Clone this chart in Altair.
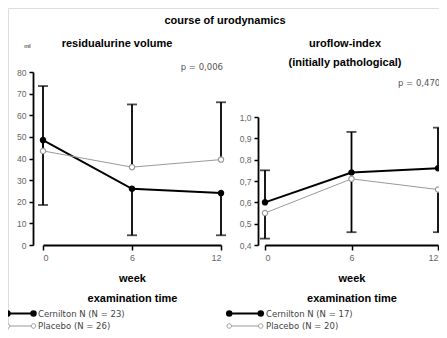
import altair as alt
import pandas as pd

weeks = [0, 6, 12]

# left panel: residual urine volume (ml)
rv_labels = ["Cernilton  N (N = 23)", "Placebo (N = 26)"]
rv_cern = [48.5, 26.0, 24.0]
rv_plac = [43.5, 36.0, 39.5]
rv_cern_end = [18.5, 4.5, 4.5]     # error bar end (downwards)
rv_plac_end = [73.5, 65.0, 66.0]   # error bar end (upwards)
rv_ticks = [0, 10, 20, 30, 40, 50, 60, 70, 80]

# right panel: uroflow-index
uf_labels = ["Cernilton  N (N = 17)", "Placebo (N = 20)"]
uf_cern = [0.60, 0.74, 0.76]
uf_plac = [0.55, 0.71, 0.66]
uf_cern_end = [0.75, 0.93, 0.95]
uf_plac_end = [0.43, 0.46, 0.46]
uf_ticks = [0.4, 0.5, 0.6, 0.7, 0.8, 0.9, 1.0]

week_ticks = [0, 6, 12]

W, H = 431, 322
FONT = "Liberation Sans"
LFONT = "DejaVu Sans"


def sym_path(half, r=0.45):
    c = half - r
    i = c - r
    return (f"M-{i},0L{i},0"
            f"M-{half},0A{r},{r} 0 1,0 -{i},0A{r},{r} 0 1,0 -{half},0Z"
            f"M{i},0A{r},{r} 0 1,0 {half},0A{r},{r} 0 1,0 {i},0Z")


def make_frames(labels, cern, plac, cern_end, plac_end):
    pts = pd.DataFrame({
        "week": weeks + weeks,
        "lo": cern + plac,
        "series": [labels[0]] * 3 + [labels[1]] * 3,
    })
    err = pd.DataFrame({
        "week": weeks + weeks,
        "lo": cern + plac,
        "hi": cern_end + plac_end,
    })
    return pts, err


def panel(labels, cern, plac, cern_end, plac_end, xrange, ydomain, yrange,
          yticks, yoffset, ylabelexpr, ytitle, legx, legy, path, loff):
    pts, err = make_frames(labels, cern, plac, cern_end, plac_end)
    xaxis = alt.Axis(orient="bottom", offset=yrange[0] - H, values=week_ticks,
                     grid=False, domainColor="black", domainWidth=1.8,
                     tickColor="black", tickWidth=1.5, tickSize=5,
                     labelColor="#666", labelFontSize=9, labelFont=FONT,
                     labelPadding=3, title=["week", "examination time"],
                     titleFont=FONT, titleFontSize=11, titleFontWeight="bold",
                     titleColor="black", titleLineHeight=20, titlePadding=10)
    yaxis = alt.Axis(orient="left", offset=yoffset, values=yticks, grid=False,
                     domainColor="black", domainWidth=1.8, tickColor="black",
                     tickWidth=1.5, tickSize=4, labelColor="#666",
                     labelFontSize=8.5, labelFont=FONT, labelPadding=3,
                     labelExpr=ylabelexpr, title=ytitle, titleAngle=0,
                     titleX=-6, titleY=37, titleFontSize=6,
                     titleFontWeight="normal", titleFont=FONT,
                     titleAlign="center", titleBaseline="middle",
                     titleColor="black")
    yscale = alt.Scale(domain=ydomain, range=yrange, nice=False, zero=False)
    X = alt.X("week:Q", scale=alt.Scale(domain=[0, 12], range=xrange, nice=False),
              axis=xaxis)
    Y = alt.Y("lo:Q", scale=yscale, axis=yaxis)
    legend = alt.Legend(title=None, orient="none", legendX=legx, legendY=legy,
                        symbolType=path, symbolSize=100, symbolStrokeWidth=1.3,
                        labelFontSize=8.5, labelColor="#444", labelFont=LFONT,
                        labelOffset=loff, padding=0, rowPadding=0)
    stroke = alt.Stroke("series:N", scale=alt.Scale(domain=labels,
                                                    range=["black", "#9a9a9a"]),
                        legend=legend)
    fill = alt.Fill("series:N", scale=alt.Scale(domain=labels,
                                                range=["black", "white"]),
                    legend=legend)
    sw = alt.StrokeWidth("series:N", scale=alt.Scale(domain=labels, range=[2, 1]),
                         legend=None)

    rules = alt.Chart(err).mark_rule(color="black", strokeWidth=1.8).encode(
        x=X, y=Y, y2="hi:Q")
    caps = alt.Chart(err).mark_tick(color="black", orient="horizontal", size=10,
                                    thickness=1.8).encode(
        x=X, y=alt.Y("hi:Q", scale=yscale, axis=yaxis))
    lines = alt.Chart(pts).mark_line().encode(x=X, y=Y, stroke=stroke,
                                             strokeWidth=sw,
                                             detail="series:N")
    points = alt.Chart(pts).mark_point(shape="circle", size=28, opacity=1,
                                       strokeWidth=1.2).encode(
        x=X, y=Y, stroke=stroke, fill=fill)
    return alt.layer(rules, caps, lines, points)


left = panel(rv_labels, rv_cern, rv_plac, rv_cern_end, rv_plac_end,
             [35, 213], [0, 80], [237, 64], rv_ticks, -25,
             "datum.label", "ml", 6.5, 299.5, sym_path(3.05), 11.5)
right = panel(uf_labels, uf_cern, uf_plac, uf_cern_end, uf_plac_end,
              [257, 430], [0.4, 1.0], [237, 109], uf_ticks, -250,
              "replace(format(datum.value, '.1f'), '.', ',')", "", 231, 299.5,
              sym_path(3.6), 15)

tdf = pd.DataFrame({"t": [0]})


def label(text, x, y, size=11, weight="bold", align="center", color="black",
          font=FONT):
    return alt.Chart(tdf).mark_text(text=text, font=font, fontSize=size,
                                    fontWeight=weight, align=align,
                                    baseline="middle", color=color).encode(
        x=alt.value(x), y=alt.value(y))


texts = [
    label("course of urodynamics", 217, 13),
    label("residualurine volume", 109, 36),
    label("uroflow-index", 337, 36),
    label("(initially pathological)", 337, 55),
    label("p = 0,006", 215, 59, size=8.5, weight="normal", align="right",
          color="#555", font=LFONT),
    label("p = 0,470", 390, 75, size=8.5, weight="normal", align="left",
          color="#555", font=LFONT),
]

chart = alt.layer(left, right, *texts).resolve_scale(
    x="independent", y="independent", stroke="independent",
    fill="independent", strokeWidth="independent"
).resolve_legend(stroke="independent", fill="independent").properties(
    width=W, height=H, padding=0,
    autosize=alt.AutoSizeParams(type="none"),
).configure_view(stroke=None).configure(background="white")

chart.save("out.html", embed_options={"renderer": "svg", "actions": False})
